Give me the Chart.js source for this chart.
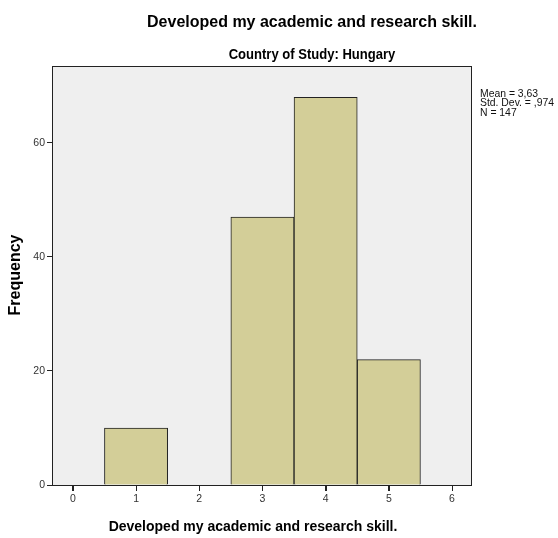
<!DOCTYPE html>
<html>
<head>
<meta charset="utf-8">
<script src="https://cdn.jsdelivr.net/npm/chart.js@4"></script>
<style>
  html, body { margin: 0; padding: 0; background: #fff; }
  #wrap { width: 558px; height: 538px; }
</style>
</head>
<body>
<div id="wrap"><canvas id="hist" width="558" height="538"></canvas></div>
<script>
const TITLE = "Developed my academic and research skill.";
const SUBTITLE = "Country of Study: Hungary";
const X_TITLE = "Developed my academic and research skill.";
const Y_TITLE = "Frequency";

const BIN_CENTERS = [1, 3, 4, 5];
const FREQUENCIES = [10, 47, 68, 22];
const X_TICKS = [0, 1, 2, 3, 4, 5, 6];
const Y_TICKS = [0, 20, 40, 60];
const STATS = ["Mean = 3,63", "Std. Dev. = ,974", "N = 147"];

const BAR_FILL = "#d3ce98";
const PLOT_BG = "#efefef";

const frame = {
  id: "frame",
  beforeDraw(chart) {
    const { ctx, chartArea: a } = chart;
    ctx.save();
    ctx.fillStyle = PLOT_BG;
    ctx.fillRect(a.left, a.top, a.right - a.left, a.bottom - a.top);
    ctx.restore();
  },
  afterDraw(chart) {
    const { ctx, chartArea: a } = chart;
    const xs = chart.scales.x;
    ctx.save();
    ctx.strokeStyle = "#222";
    ctx.lineWidth = 1;
    ctx.strokeRect(Math.round(a.left) + 0.5, Math.round(a.top) + 0.5,
      Math.round(a.right - a.left), Math.round(a.bottom - a.top));

    // x tick marks below the frame
    ctx.beginPath();
    X_TICKS.forEach(v => {
      const px = Math.round(xs.getPixelForValue(v)) + 0.5;
      ctx.moveTo(px, a.bottom);
      ctx.lineTo(px, a.bottom + 6);
    });
    ctx.stroke();

    ctx.fillStyle = "#000";
    ctx.textAlign = "center";
    ctx.textBaseline = "middle";
    ctx.font = "bold 16px 'Liberation Sans', Arial, sans-serif";
    ctx.fillText(TITLE, 312, 23);

    // subtitle is a condensed face in the original, squeeze it a little
    ctx.save();
    ctx.translate(312, 55);
    ctx.scale(0.87, 1);
    ctx.font = "bold 15px 'Liberation Sans', Arial, sans-serif";
    ctx.fillText(SUBTITLE, 0, 0);
    ctx.restore();

    // axis titles
    ctx.font = "bold 14px 'Liberation Sans', Arial, sans-serif";
    ctx.fillText(X_TITLE, 253, 527);
    ctx.save();
    ctx.translate(16, 275);
    ctx.rotate(-Math.PI / 2);
    ctx.font = "bold 16px 'Liberation Sans', Arial, sans-serif";
    ctx.fillText(Y_TITLE, 0, 0);
    ctx.restore();

    ctx.textAlign = "left";
    ctx.font = "10.4px 'Liberation Sans', Arial, sans-serif";
    ctx.fillStyle = "#111";
    STATS.forEach((s, i) => ctx.fillText(s, a.right + 9, 94 + i * 9.5));
    ctx.restore();
  }
};

new Chart(document.getElementById("hist"), {
  type: "bar",
  data: {
    datasets: [{
      data: BIN_CENTERS.map((x, i) => ({ x, y: FREQUENCIES[i] })),
      backgroundColor: BAR_FILL,
      borderColor: "#222",
      borderWidth: 1,
      barPercentage: 1,
      categoryPercentage: 1
    }]
  },
  options: {
    responsive: false,
    animation: false,
    layout: { padding: { left: 0, right: 87, top: 66, bottom: 0 } },
    plugins: { legend: { display: false }, tooltip: { enabled: false } },
    scales: {
      x: {
        type: "linear",
        offset: false,
        min: -0.33,
        max: 6.3,
        afterBuildTicks: s => { s.ticks = X_TICKS.map(v => ({ value: v })); },
        afterFit: s => { s.height = 53; },
        grid: { offset: false, drawOnChartArea: false, tickLength: 6, color: "#222" },
        border: { display: false },
        ticks: { color: "#333", font: { size: 10.5, family: "'Liberation Sans', Arial" }, padding: 2 }
      },
      y: {
        min: 0,
        max: 73.5,
        afterBuildTicks: s => { s.ticks = Y_TICKS.map(v => ({ value: v })); },
        afterFit: s => { s.width = 52; },
        grid: { drawOnChartArea: false, tickLength: 5, color: "#222" },
        border: { display: false },
        ticks: { color: "#333", font: { size: 10.5, family: "'Liberation Sans', Arial" }, padding: 2 }
      }
    }
  },
  plugins: [frame]
});
</script>
</body>
</html>
